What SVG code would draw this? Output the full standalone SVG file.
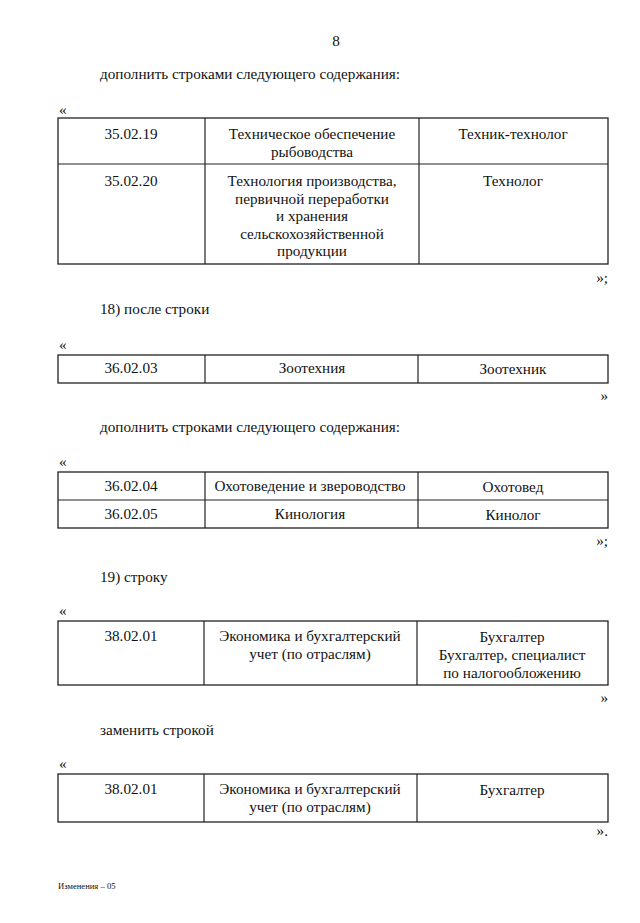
<svg xmlns="http://www.w3.org/2000/svg" width="640" height="923" viewBox="0 0 640 923">
<style>
text{font-family:"Liberation Serif","Times New Roman",serif;font-size:15.2px;fill:#111}
.c{text-anchor:middle}
.r{text-anchor:end}
.tb{fill:none;stroke:#222;stroke-width:1.3}
.ln{stroke:#222;stroke-width:1.2}
.sm{font-size:8.6px}
</style>
<rect width="640" height="923" fill="#fff"/>
<text x="336" y="46" class="c">8</text>

<g id="section1">
<text x="100" y="79">дополнить строками следующего содержания:</text>
<text x="59" y="115">«</text>
<g id="table1">
<rect class="tb" x="58" y="118" width="550" height="146"/>
<line class="ln" x1="58" y1="164" x2="608" y2="164"/>
<line class="ln" x1="205" y1="118" x2="205" y2="264"/>
<line class="ln" x1="419" y1="118" x2="419" y2="264"/>
<text x="131" y="139" class="c">35.02.19</text>
<text x="312" y="139" class="c">Техническое обеспечение</text>
<text x="312" y="157" class="c">рыбоводства</text>
<text x="513" y="139" class="c">Техник-технолог</text>
<text x="131" y="186" class="c">35.02.20</text>
<text x="312" y="186" class="c">Технология производства,</text>
<text x="312" y="203.5" class="c">первичной переработки</text>
<text x="312" y="221" class="c">и хранения</text>
<text x="312" y="238.5" class="c">сельскохозяйственной</text>
<text x="312" y="256" class="c">продукции</text>
<text x="513" y="186" class="c">Технолог</text>
</g>
<text x="608" y="283" class="r">»;</text>
</g>

<g id="section2">
<text x="100" y="314">18) после строки</text>
<text x="59" y="350">«</text>
<g id="table2">
<rect class="tb" x="58" y="355" width="550" height="28"/>
<line class="ln" x1="205" y1="355" x2="205" y2="383"/>
<line class="ln" x1="418" y1="355" x2="418" y2="383"/>
<text x="131" y="373" class="c">36.02.03</text>
<text x="312" y="373" class="c">Зоотехния</text>
<text x="513" y="374" class="c">Зоотехник</text>
</g>
<text x="608" y="401" class="r">»</text>
</g>

<g id="section3">
<text x="100" y="432">дополнить строками следующего содержания:</text>
<text x="59" y="467">«</text>
<g id="table3">
<rect class="tb" x="58" y="472" width="550" height="56"/>
<line class="ln" x1="58" y1="500" x2="608" y2="500"/>
<line class="ln" x1="205" y1="472" x2="205" y2="528"/>
<line class="ln" x1="418" y1="472" x2="418" y2="528"/>
<text x="131" y="491" class="c">36.02.04</text>
<text x="310" y="491" class="c">Охотоведение и звероводство</text>
<text x="513" y="492" class="c">Охотовед</text>
<text x="131" y="519" class="c">36.02.05</text>
<text x="310" y="519" class="c">Кинология</text>
<text x="513" y="520" class="c">Кинолог</text>
</g>
<text x="608" y="546" class="r">»;</text>
</g>

<g id="section4">
<text x="100" y="582">19) строку</text>
<text x="59" y="616">«</text>
<g id="table4">
<rect class="tb" x="58" y="621" width="550" height="64"/>
<line class="ln" x1="204" y1="621" x2="204" y2="685"/>
<line class="ln" x1="417" y1="621" x2="417" y2="685"/>
<text x="131" y="641" class="c">38.02.01</text>
<text x="310" y="641" class="c">Экономика и бухгалтерский</text>
<text x="310" y="659" class="c">учет (по отраслям)</text>
<text x="512" y="642" class="c">Бухгалтер</text>
<text x="512" y="660" class="c">Бухгалтер, специалист</text>
<text x="512" y="678" class="c">по налогообложению</text>
</g>
<text x="608" y="703" class="r">»</text>
</g>

<g id="section5">
<text x="100" y="735">заменить строкой</text>
<text x="59" y="769">«</text>
<g id="table5">
<rect class="tb" x="58" y="774" width="550" height="48"/>
<line class="ln" x1="204" y1="774" x2="204" y2="822"/>
<line class="ln" x1="417" y1="774" x2="417" y2="822"/>
<text x="131" y="794" class="c">38.02.01</text>
<text x="310" y="794" class="c">Экономика и бухгалтерский</text>
<text x="310" y="812" class="c">учет (по отраслям)</text>
<text x="512" y="795" class="c">Бухгалтер</text>
</g>
<text x="608" y="836" class="r">».</text>
</g>

<text x="58" y="889" class="sm">Изменения – 05</text>
</svg>
